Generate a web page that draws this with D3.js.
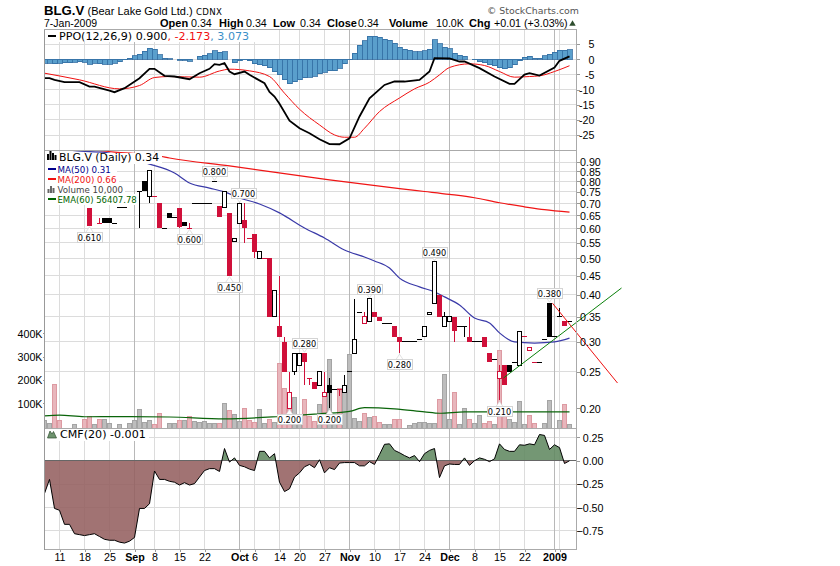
<!DOCTYPE html>
<html><head><meta charset="utf-8">
<script src="https://cdn.jsdelivr.net/npm/d3@7"></script>
<style>
html,body{margin:0;padding:0;background:#fff}
svg{display:block}
text{font-family:"Liberation Sans",Arial,sans-serif;fill:#000}
.lg{font-family:"DejaVu Sans",sans-serif;font-size:11.1px}
.ax{font-size:10.7px}
</style></head><body>
<svg id="c" width="840" height="566"></svg>
<script>
// ---- time axis (trading-session index) ----
const tickIndex  = [3,8,13,18,22,27,32,39,42,47,51,56,61,66,71,76,81,86,91,96,102,103];
const tickLabels = ["11","18","25","Sep","8","15","22","Oct","6","14","20","27","Nov","10","17","24","Dec","8","15","22","2009",""];
const monthTicks = [18,39,61,81,102];
// ---- PPO panel ----
const ppoHist = [-1.32,-1.32,-1.54,-1.32,-1.21,-1.10,-0.99,-0.77,-0.99,-1.65,-1.32,-1.43,-1.65,-1.65,-1.32,-0.88,-0.22,0.22,1.10,1.65,2.53,3.63,3.30,1.43,0.33,0.11,0,-0.33,-0.33,-0.66,0,0.88,1.21,1.76,2.75,2.20,2.42,0,-1.10,-0.44,-0.11,-0.55,-1.54,-1.87,-2.20,-2.75,-4.07,-5.17,-6.82,-8.03,-7.48,-6.82,-6.16,-5.94,-5.61,-4.84,-4.29,-3.85,-3.74,-2.97,-1.54,-0.22,1.98,4.62,6.05,7.59,7.59,7.15,6.60,6.27,5.28,3.96,3.30,2.97,2.42,2.42,2.75,3.30,6.38,5.06,3.96,3.41,1.98,1.32,0.88,0,-0.22,-0.77,-1.10,-1.76,-2.09,-2.86,-3.08,-2.75,-1.87,-0.44,0.66,0.99,0.33,0.33,1.10,1.65,2.20,2.97,2.97,3.07];
const ppoLineI = [0,1,2,4,7,9,10,13,14,16,19,21,22,24,26,29,31,33,34,35,36,37,38,40,41,44,45,46,47,49,51,53,55,57,59,61,63,65,68,70,72,75,77,78,81,83,84,87,90,93,94,96,97,99,102,103,105];
const ppoLineV = [-6.27,-6.27,-6.82,-7.59,-7.59,-9.02,-9.02,-10.34,-10.89,-9.57,-6.27,-3.19,-3.19,-5.5,-5.72,-6.6,-4.62,-3.19,-1.65,-1.87,-1.32,-4.07,-4.95,-4.07,-5.17,-7.92,-10.8,-12.3,-14.7,-20.3,-22.8,-24.4,-26.4,-28,-28.05,-26.1,-18.9,-12.9,-8.5,-7.37,-7.37,-6.82,-4.07,0.33,0.22,-0.77,-0.77,-2.97,-5.72,-8.14,-8.14,-5.06,-4.62,-5.39,-2.75,-0.55,0.9];
const ppoSigI = [0,7,15,19,22,25,31,35,37,41,45,48,51,55,58,60,62,64,67,71,74,77,79,81,85,88,91,94,97,99,102,105];
const ppoSigV = [-4.62,-6.82,-9.79,-8.69,-6.05,-5.72,-5.94,-3.9,-3.3,-3.85,-5.72,-11.22,-16.5,-21.67,-24.97,-25.74,-25.74,-22.77,-17.27,-12.8,-9.79,-7.59,-5.17,-2.75,-1.54,-2.09,-4.07,-5.94,-5.72,-5.5,-4.07,-2.17];
const ppoTicks = [5,0,-5,-10,-15,-20,-25];
// ---- price panel ----
const priceTicks = [0.20,0.25,0.30,0.35,0.40,0.45,0.50,0.55,0.60,0.65,0.70,0.75,0.80,0.85,0.90];
const candleI  = [9,11,12,13,14,15,16,19,20,21,22,23,24,25,26,27,28,29,30,31,32,33,34,35,36,37,38,39,40,41,42,43,44,45,46,47,48,49,50,51,52,53,54,55,56,57,58,59,60,61,62,63,64,65,66,67,68,69,70,71,72,73,74,75,76,77,78,79,80,81,82,83,84,85,86,87,88,89,90,91,92,93,94,95,96,97,98,99,100,101,102,103,104,105];
const opens  = [.68,.62,.64,.64,.62,.68,.68,.75,.80,.73,.73,.70,.60,.66,.64,.68,.625,.60,.70,.70,.70,.70,.80,.69,.68,.66,.555,.62,.63,.565,.58,.50,.50,.50,.35,.33,.30,.20,.25,.26,.28,.24,.235,.23,.215,.23,.225,.225,.22,.25,.28,.36,.335,.34,.36,.35,.335,.335,.33,.31,.30,.30,.30,.305,.31,.355,.38,.40,.33,.34,.35,.33,.33,.31,.30,.30,.31,.28,.27,.24,.26,.26,.265,.26,.31,.285,.265,.265,.305,.38,.31,.35,.34,.34];
const highs  = [.68,.64,.64,.64,.62,.68,.68,.75,.80,.855,.73,.70,.60,.66,.64,.68,.625,.62,.70,.70,.70,.70,.80,.69,.75,.66,.565,.70,.70,.565,.58,.52,.50,.50,.41,.45,.31,.25,.28,.28,.28,.24,.235,.25,.25,.24,.225,.225,.245,.25,.39,.36,.36,.39,.36,.35,.335,.335,.33,.31,.30,.30,.30,.305,.33,.36,.49,.40,.36,.35,.35,.33,.33,.35,.30,.30,.31,.28,.27,.26,.26,.26,.265,.32,.31,.29,.265,.265,.305,.38,.31,.37,.34,.34];
const lows   = [.61,.62,.62,.62,.62,.68,.68,.60,.755,.70,.73,.60,.60,.64,.64,.60,.61,.60,.70,.70,.70,.70,.80,.645,.68,.45,.555,.62,.55,.565,.50,.50,.50,.35,.35,.31,.25,.20,.245,.26,.23,.23,.225,.23,.215,.20,.225,.215,.22,.25,.28,.36,.335,.34,.35,.34,.335,.335,.31,.28,.30,.30,.30,.305,.31,.355,.38,.35,.33,.34,.30,.33,.31,.30,.30,.30,.29,.265,.27,.21,.23,.25,.265,.26,.31,.285,.265,.265,.305,.31,.31,.35,.33,.34];
const closes = [.61,.62,.62,.62,.62,.68,.68,.75,.755,.855,.73,.60,.60,.64,.64,.605,.61,.60,.70,.70,.70,.70,.80,.645,.75,.45,.565,.70,.60,.565,.52,.52,.50,.35,.41,.31,.25,.22,.28,.28,.265,.24,.225,.25,.22,.22,.225,.225,.23,.25,.305,.36,.35,.39,.35,.34,.335,.335,.31,.30,.30,.30,.30,.305,.33,.36,.49,.35,.35,.35,.32,.33,.33,.30,.30,.30,.29,.265,.27,.25,.23,.25,.265,.32,.31,.29,.265,.265,.305,.31,.31,.35,.33,.34];
const candleRed = [9,11,22,23,27,29,35,37,40,41,42,44,45,47,48,49,52,53,54,56,59,64,66,67,70,71,79,82,85,88,89,91,92,96,97,98,104];
const ma50I = [0,6,12,17,21,26,29,33,36,39,43,47,52,56,60,64,66,69,71,75,78,80,83,86,89,91,94,98,102,105];
const ma50V = [1.0,.965,.955,.92,.889,.842,.792,.768,.75,.723,.697,.66,.602,.566,.526,.504,.492,.471,.443,.42,.407,.395,.376,.347,.337,.317,.30,.298,.30,.307];
const ma200I = [0,11,14,23,25,37,57,71,76,81,86,91,96,100,105];
const ma200V = [.99,.965,.957,.934,.923,.879,.807,.765,.752,.739,.724,.702,.685,.673,.663];
const redTrendI = [101.6,114.6],   redTrendP = [.38,.2334];
const greenTrendI = [91.8,115.4],  greenTrendP = [.2407,.417];
const calloutText = ["0.610","0.600","0.800","0.700","0.450","0.390","0.280","0.200","0.200","0.280","0.490","0.380","0.210"];
const calloutI    = [9,29,34,39,37,65,52,49,57,71,78,101,91];
const calloutP    = [.61,.60,.80,.70,.45,.39,.28,.20,.20,.28,.49,.38,.21];
const calloutUp   = [0,0,1,1,0,1,1,0,0,0,1,1,0];
// ---- volume ----
const volumeK = [26,13,180,26,0,0,9,0,30,42,9,33,30,16,0,9,0,13,26,76,20,26,9,56,0,13,16,26,26,46,21,17,21,16,16,16,101,68,51,23,77,26,19,73,16,33,20,270,165,95,127,44,116,44,23,97,130,287,30,166,158,309,37,23,59,41,44,19,9,9,30,30,0,7,13,20,20,16,16,119,226,33,149,9,80,33,16,47,13,23,9,326,51,33,20,110,9,49,16,0,16,114,0,29,94,10];
const volumeDown = [2,3,8,9,11,22,23,27,29,35,37,40,41,42,45,47,48,49,52,53,54,56,59,64,66,67,70,71,79,82,85,88,89,91,92,97,98,104];
const volTicks = [100,200,300,400];
const emaI = [0,3,8,15,25,36,47,55,61,64,70,76,79,84,105];
const emaV = [47,50,43,44,42,34,44,56,66,82,77,64,58,64,64];
// ---- CMF ----
const cmf = [-.35,-.20,-.51,-.53,-.68,-.68,-.78,-.79,-.80,-.79,-.78,-.81,-.84,-.85,-.85,-.87,-.88,-.86,-.82,-.51,-.51,-.46,-.11,-.20,-.20,-.22,-.23,-.26,-.235,-.26,-.245,-.175,-.105,-.085,-.085,-.115,.13,-.015,.03,-.05,-.065,-.09,-.105,.10,.10,.03,.075,-.23,-.33,-.30,-.175,-.13,-.065,-.04,-.075,.01,-.13,-.075,-.095,-.025,-.02,-.02,-.02,-.055,-.055,-.01,-.04,.065,.175,.18,.11,.085,.055,.03,.055,-.01,.075,.11,.13,-.18,-.055,-.035,-.04,-.04,.03,-.05,0,.03,.015,-.01,.02,.18,.12,.10,.10,.17,.165,.18,.17,.28,.27,.12,.17,.14,-.03,-.001];
const cmfTicks = [.25,0,-.25,-.5,-.75];

// ---- geometry ----
const W = {l:44.5, r:576.5};
const P = {ppo:[29.5,150.5], price:[150.5,428.5], cmf:[428.5,549.5]};
const x = d3.scaleLinear().domain([0,105]).range([44.5,569.5]);
const yPPO = d3.scaleLinear().domain([5,-25]).range([44,135]);
const yPrice = d3.scaleLog().domain([.2,.9]).range([408.3,162.1]);
const yVol = d3.scaleLinear().domain([0,400]).range([426.8,333.4]);
const yCMF = d3.scaleLinear().domain([.25,-.75]).range([437.3,530.9]);

const svg = d3.select("#c");
svg.append("rect").attr("width",840).attr("height",566).attr("fill","#fff");
const defs = svg.append("defs");
const clip=(id,x0,y0,w,h)=>defs.append("clipPath").attr("id",id).append("rect").attr("x",x0).attr("y",y0).attr("width",w).attr("height",h);
clip("cPPO",W.l,P.ppo[0],W.r-W.l,P.ppo[1]-P.ppo[0]);
clip("cPrice",W.l,P.price[0],W.r-W.l,P.price[1]-P.price[0]);
clip("cAbove",W.l,P.cmf[0],W.r-W.l,yCMF(0)-P.cmf[0]);
clip("cBelow",W.l,yCMF(0),W.r-W.l,P.cmf[1]-yCMF(0));

const grid = svg.append("g").attr("shape-rendering","crispEdges");
const GL="#dcdcdc", GM="#b8b8b8";
function hgrid(vals,y){ grid.selectAll(null).data(vals).enter().append("line")
  .attr("x1",W.l).attr("x2",W.r).attr("y1",d=>y(d)).attr("y2",d=>y(d)).attr("stroke",GL); }
hgrid(ppoTicks,yPPO); hgrid(priceTicks.slice(1),yPrice); hgrid(cmfTicks,yCMF);
[P.ppo,P.price,P.cmf].forEach(p=>{
  grid.selectAll(null).data(tickIndex).enter().append("line")
   .attr("x1",x).attr("x2",x).attr("y1",p[0]).attr("y2",p[1])
   .attr("stroke",d=>monthTicks.includes(d)?GM:GL);
});

// PPO
const gP = svg.append("g").attr("clip-path","url(#cPPO)");
gP.selectAll("rect").data(ppoHist).enter().append("rect")
 .attr("shape-rendering","crispEdges")
 .attr("x",(d,i)=>x(i)-2.5).attr("width",5)
 .attr("y",d=>Math.min(yPPO(d),yPPO(0))).attr("height",d=>Math.abs(yPPO(d)-yPPO(0)))
 .attr("fill","#5a9fcc").attr("stroke","#2f6aa0").attr("stroke-width",.8);
const lineOf=(xs,ys,ysc,curve)=>d3.line().x((d,i)=>x(xs[i])).y((d,i)=>ysc(ys[i])).curve(curve||d3.curveMonotoneX)(xs);
gP.append("path").attr("d",lineOf(ppoSigI,ppoSigV,yPPO)).attr("fill","none").attr("stroke","#f01010").attr("stroke-width",1);
gP.append("path").attr("d",lineOf(ppoLineI,ppoLineV,yPPO,d3.curveLinear)).attr("fill","none").attr("stroke","#000").attr("stroke-width",1.8);

// volume
const gV = svg.append("g").attr("clip-path","url(#cPrice)").attr("shape-rendering","crispEdges");
volumeK.forEach((v,i)=>{ if(!v) return;
  const dn=volumeDown.includes(i);
  gV.append("rect").attr("x",x(i)-2).attr("width",4).attr("y",yVol(v)).attr("height",yVol(0)-yVol(v)+1.5)
   .attr("fill",dn?"#e8b6bc":"#bdbdbd").attr("stroke",dn?"#dd9aa2":"#a4a4a4");
});

// price lines
const gL = svg.append("g").attr("clip-path","url(#cPrice)");
gL.append("path").attr("d",lineOf(ma200I,ma200V,yPrice)).attr("fill","none").attr("stroke","#f01515").attr("stroke-width",1.2);
gL.append("path").attr("d",lineOf(ma50I,ma50V,yPrice)).attr("fill","none").attr("stroke","#3a3aa8").attr("stroke-width",1.2);
gL.append("path").attr("d",lineOf(emaI,emaV,yVol)).attr("fill","none").attr("stroke","#0a640a").attr("stroke-width",1.2);

// candles
const gC = svg.append("g").attr("clip-path","url(#cPrice)").attr("shape-rendering","crispEdges");
const RED="#d0103a";
candleI.forEach((i,k)=>{
  const o=opens[k],h=highs[k],l=lows[k],c=closes[k];
  const col=candleRed.includes(i)?RED:"#000", X=x(i);
  gC.append("line").attr("x1",X).attr("x2",X).attr("y1",yPrice(h)).attr("y2",yPrice(l)).attr("stroke",col);
  if(o===c){
    gC.append("line").attr("x1",X-2.5).attr("x2",X+2.5).attr("y1",yPrice(o)).attr("y2",yPrice(o)).attr("stroke",col);
  } else if(c>o){
    gC.append("rect").attr("x",X-2).attr("width",4).attr("y",yPrice(c)).attr("height",yPrice(o)-yPrice(c))
      .attr("fill","#fff").attr("stroke",col);
  } else {
    gC.append("rect").attr("x",X-2.5).attr("width",5).attr("y",yPrice(o)).attr("height",yPrice(c)-yPrice(o)).attr("fill",col);
  }
});

// trend lines (run past the panel)
const trend=(xs,ys,col)=>svg.append("line").attr("x1",x(xs[0])).attr("x2",x(xs[1])).attr("y1",yPrice(ys[0])).attr("y2",yPrice(ys[1])).attr("stroke",col).attr("stroke-width",1);
trend(greenTrendI,greenTrendP,"#0a800a");
trend(redTrendI,redTrendP,"#ee1111");

// callouts
const gK = svg.append("g");
calloutText.forEach((t,k)=>{
  const X=x(calloutI[k]), Y=yPrice(calloutP[k]), up=calloutUp[k];
  const dx = t==="0.700"?4:0;
  const top = up? Y-15 : Y+6;
  gK.append("path").attr("d",`M${X},${Y+(up?-1:1)}L${X-4},${up?Y-7:Y+7}L${X+4},${up?Y-7:Y+7}Z`).attr("fill","#fff").attr("stroke","#ccc").attr("stroke-width",.6);
  gK.append("rect").attr("shape-rendering","crispEdges").attr("x",Math.round(X+dx-12.5)+.5).attr("y",Math.round(top)+.5).attr("width",25).attr("height",10).attr("fill","#fff").attr("stroke","#d4d4d4");
  gK.append("text").attr("class","lg").attr("x",X+dx).attr("y",Math.round(top)+9).attr("text-anchor","middle").style("font-size","8.2px").text(t);
});

// CMF
const gM = svg.append("g");
const area=d3.area().x((d,i)=>x(i)).y0(yCMF(0)).y1(d=>yCMF(d));
gM.append("path").attr("d",area(cmf)).attr("fill","#935e5e").attr("fill-opacity",.87).attr("clip-path","url(#cBelow)");
gM.append("path").attr("d",area(cmf)).attr("fill","#5f885f").attr("fill-opacity",.87).attr("clip-path","url(#cAbove)");
gM.append("line").attr("x1",W.l).attr("x2",W.r).attr("y1",yCMF(0)).attr("y2",yCMF(0)).attr("stroke","#666").attr("shape-rendering","crispEdges");
gM.append("path").attr("d",d3.line().x((d,i)=>x(i)).y(d=>yCMF(d))(cmf)).attr("fill","none").attr("stroke","#000").attr("stroke-width",1);

// borders
const gB = svg.append("g").attr("shape-rendering","crispEdges");
[P.ppo,P.price,P.cmf].forEach(p=>{
  gB.append("rect").attr("x",W.l).attr("y",p[0]).attr("width",W.r-W.l).attr("height",p[1]-p[0]).attr("fill","none").attr("stroke","#aaa");
});
gB.append("line").attr("x1",W.l).attr("x2",W.l).attr("y1",P.ppo[0]).attr("y2",P.cmf[1]).attr("stroke","#999");

// axes
function styleAxis(g,anchor,dx){
  g.select(".domain").remove();
  g.selectAll(".tick line").attr("stroke","#999").attr("shape-rendering","crispEdges");
  g.selectAll("text").attr("class","ax").attr("text-anchor",anchor).attr("x",dx).attr("dy",".36em");
}
const aP=svg.append("g").attr("transform",`translate(${W.r},0)`).call(d3.axisRight(yPPO).tickValues(ppoTicks).tickSize(3).tickFormat(d=>d));
styleAxis(aP,"end",18);
const aPr=svg.append("g").attr("transform",`translate(${W.r},0)`).call(d3.axisRight(yPrice).tickValues(priceTicks).tickSize(3).tickFormat(d3.format(".2f")));
styleAxis(aPr,"start",3.5);
const aM=svg.append("g").attr("transform",`translate(${W.r},0)`).call(d3.axisRight(yCMF).tickValues(cmfTicks).tickSize(3).tickFormat(d3.format(".2f")));
styleAxis(aM,"end",27);
const aV=svg.append("g").attr("transform",`translate(${W.l},0)`).call(d3.axisLeft(yVol).tickValues(volTicks).tickSize(2).tickFormat(d=>d+"K"));
styleAxis(aV,"end",-2);
const aX=svg.append("g").attr("transform",`translate(0,${P.cmf[1]})`).call(d3.axisBottom(x).tickValues(tickIndex).tickSize(2).tickFormat((d,i)=>tickLabels[i]));
aX.select(".domain").remove();
aX.selectAll(".tick line").attr("stroke","#999").attr("shape-rendering","crispEdges");
aX.selectAll("text").attr("class","ax").attr("y",11.5).attr("dy",0).attr("text-anchor","middle")
  .style("font-weight",d=>monthTicks.includes(d)?"bold":"normal");

// header
const T=(s,xx,yy,size,opt={})=>{const t=svg.append("text").attr("x",xx).attr("y",yy).style("font-size",size+"px").text(s);
  if(opt.bold)t.style("font-weight","bold"); if(opt.fam)t.style("font-family",opt.fam); if(opt.fill)t.style("fill",opt.fill); if(opt.anchor)t.attr("text-anchor",opt.anchor); if(opt.ls)t.style("letter-spacing",opt.ls+"px"); return t;};
T("BLG.V",44,15,13.2,{bold:1});
T("(Bear Lake Gold Ltd.)",87.5,15,11);
T("CDNX",196,14.5,8.6,{fam:"DejaVu Sans",ls:.3});
T("7-Jan-2009",44,27,10.5);
T("Open",160,27,11,{bold:1}); T("0.34",191,27,10.7);
T("High",219,27,11,{bold:1}); T("0.34",246,27,10.7);
T("Low",273,27,11,{bold:1});  T("0.34",300,27,10.7);
T("Close",327,27,11,{bold:1});T("0.34",358,27,10.7);
T("Volume",389,27,11,{bold:1});T("10.0K",436,27,10.7);
T("Chg",469,27,11,{bold:1});  T("+0.01 (+3.03%)",494,27,10.7);
svg.append("path").attr("d",d3.symbol(d3.symbolTriangle,18)()).attr("transform","translate(572.5,24)").attr("fill","#2e4d2e");
T("\u00A9 StockCharts.com",487,14,9.4,{fam:"DejaVu Sans",fill:"#555"});

// legends (white rows over the plot)
const bg=(xx,yy,w,h)=>svg.append("rect").attr("x",xx).attr("y",yy).attr("width",w).attr("height",h).attr("fill","#fff").attr("shape-rendering","crispEdges");
const leg=(parts,xx,yy,size)=>{const t=svg.append("text").attr("class","lg").attr("x",xx).attr("y",yy);
  if(size)t.style("font-size",size+"px");
  parts.forEach(([s,c])=>t.append("tspan").style("fill",c||"#000").text(s));};
const sw=(c,yy)=>svg.append("rect").attr("x",48).attr("y",yy).attr("width",8).attr("height",2).attr("fill",c);

bg(45,30,212,12);
sw("#000",35);
leg([["PPO(12,26,9) 0.900"],[", -2.173","#f01010"],[", ","#3a8fc8"],["3.073","#3a8fc8"]],59,40);

bg(45,153,117,11);
bg(45,164,72,10); bg(45,174,74,10); bg(45,184,80,10); bg(45,194,94,11);
const icon=svg.append("g");
[[47,2,6],[49.5,2,9],[52,2,7],[54.5,2,5]].forEach(r=>icon.append("rect").attr("x",r[0]).attr("y",160-r[2]).attr("width",r[1]).attr("height",r[2]).attr("fill","#000"));
leg([["BLG.V (Daily) 0.34"]],59,161,10.9);
sw("#00008b",168); leg([["MA(50) 0.31","#00008b"]],57.5,172.5,8.7);
sw("#f01010",178); leg([["MA(200) 0.66","#f01010"]],57.5,183,8.7);
[[47,3,4],[49.5,3,7],[52,3,5]].forEach(r=>svg.append("rect").attr("x",r[0]+ .5).attr("y",193-r[2]).attr("width",2).attr("height",r[2]).attr("fill","#666"));
leg([["Volume 10,000","#444"]],57.5,193,8.7);
sw("#006400",198); leg([["EMA(60) 56407.78","#006400"]],57.5,203,8.5);

bg(45,429,104,12);
svg.append("path").attr("d","M47.5,438L50,431L52,434L53.5,431.5L56.5,438Z").attr("fill","#6e936e").attr("stroke","#2f4f2f").attr("stroke-width",.7);
leg([["CMF(20) -0.001"]],60,438);
</script>
</body></html>
